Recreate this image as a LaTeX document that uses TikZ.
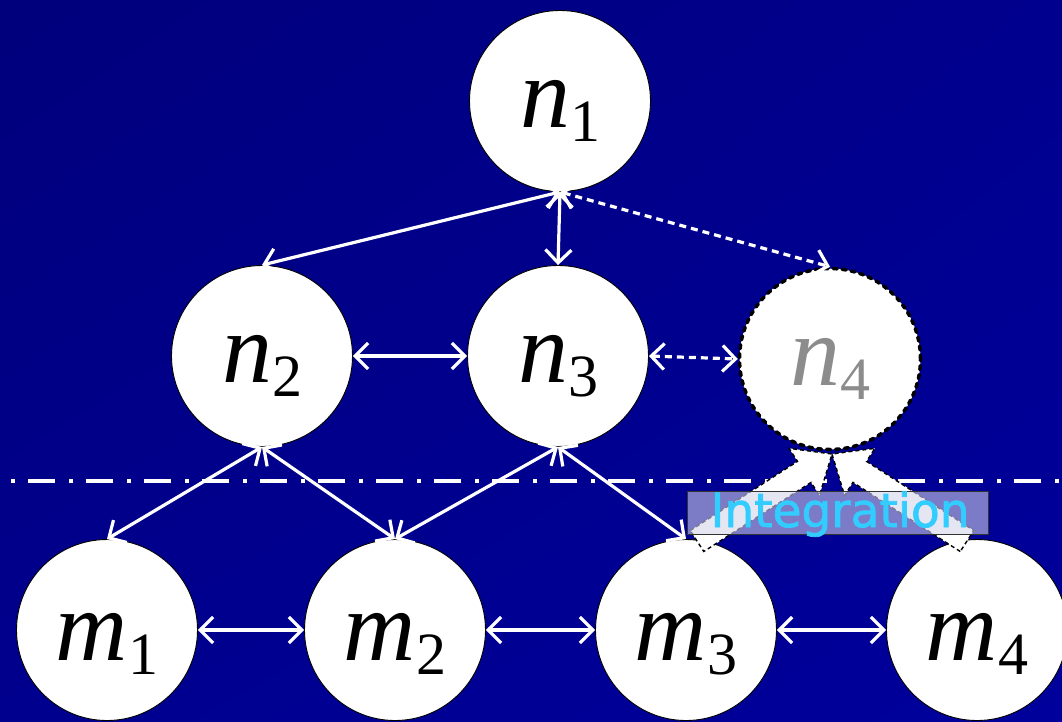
\documentclass[tikz,border=0pt]{standalone}
\usepackage{fontspec}
\usepackage{graphicx}
\setmainfont{Liberation Serif}
\newfontfamily\labelfont[FakeBold=1.6]{DejaVu Sans}
\usetikzlibrary{arrows.meta,calc,shadings}

\definecolor{bgdark}{HTML}{00007C}
\definecolor{bgmid}{HTML}{00008E}
\definecolor{bglight}{HTML}{00009C}
\definecolor{intcyan}{HTML}{33CCFF}
\definecolor{ghost}{HTML}{8C8C8C}
\definecolor{labelfill}{HTML}{D4D4EC}

\newcommand{\vlab}[3][black]{\textcolor{#1}{\fontsize{100}{100}\selectfont\itshape #2}\raisebox{-14pt}{\textcolor{#1}{\fontsize{60}{60}\selectfont #3}}}

\begin{document}
\begin{tikzpicture}[x=1pt,y=-1pt,
  vert/.style={circle,draw=black,line width=0.9pt,fill=white,minimum size=181pt,inner sep=0pt,text height=52pt,text depth=0pt},
  mvert/.style={vert,text height=60pt},
  link/.style={draw=white,line width=3.2pt,{Straight Barb[length=13pt,width=26pt]}-{Straight Barb[length=13pt,width=26pt]}},
  dlink/.style={link,dash pattern=on 7pt off 5pt},
  blockarrow/.style={fill=white,draw=black,line width=1.4pt,dash pattern=on 4pt off 3pt},
]
\useasboundingbox (0,0) rectangle (1062,721);
\shade[upper left=bgdark,upper right=bgmid,lower left=bgmid,lower right=bglight] (0,0) rectangle (1062,721);

% dash-dot separator
\draw[white,line width=4pt,dash pattern=on 27pt off 14pt on 4pt off 13pt,dash phase=30pt] (0,481) -- (1062,481);

% nodes
\node[vert] (n1) at (560,101) {\vlab{n}{1}};
\node[vert] (n2) at (262,356) {\vlab{n}{2}};
\node[vert] (n3) at (558,356) {\vlab{n}{3}};
\node[vert,line width=3.5pt,line cap=round,dash pattern=on 4pt off 5pt] (n4) at (830,359) {\vlab[ghost]{n}{4}};
\node[mvert] (m1) at (107,630) {\vlab{m}{1}};
\node[mvert] (m2) at (395,630) {\vlab{m}{2}};
\node[mvert] (m3) at (686,630) {\vlab{m}{3}};
\node[mvert] (m4) at (977,630) {\vlab{m}{4}};

% connectors
\draw[link] (n1.south) -- (n2.north);
\draw[link] (n1.south) -- (n3.north);
\draw[dlink] (n1.south) -- (n4.north);
\draw[link] (n2.east) -- (n3.west);
\draw[dlink] (n3.east) -- (n4.west);
\draw[link] (n2.south) -- (m1.north);
\draw[link] (n2.south) -- (m2.north);
\draw[link] (n3.south) -- (m2.north);
\draw[link] (n3.south) -- (m3.north);
\draw[link] (m1.east) -- (m2.west);
\draw[link] (m2.east) -- (m3.west);
\draw[link] (m3.east) -- (m4.west);

% integration block arrows
\coordinate (T) at (832,454);
\coordinate (S1) at (697,541);
\coordinate (S2) at (967,541);
\coordinate (H1) at ($(T)!33pt!(S1)$);
\coordinate (H2) at ($(T)!33pt!(S2)$);
\filldraw[blockarrow] ($(S1)!12.5pt!90:(T)$) -- ($(H1)!12.5pt!90:(T)$) -- ($(H1)!28pt!90:(T)$) -- (T)
  -- ($(H1)!28pt!-90:(T)$) -- ($(H1)!12.5pt!-90:(T)$) -- ($(S1)!12.5pt!-90:(T)$) -- cycle;
\filldraw[blockarrow] ($(S2)!12.5pt!90:(T)$) -- ($(H2)!12.5pt!90:(T)$) -- ($(H2)!28pt!90:(T)$) -- (T)
  -- ($(H2)!28pt!-90:(T)$) -- ($(H2)!12.5pt!-90:(T)$) -- ($(S2)!12.5pt!-90:(T)$) -- cycle;

% label
\node[draw=black!80,line width=0.9pt,fill=labelfill,fill opacity=0.58,draw opacity=1,
  minimum width=301pt,minimum height=43pt,inner sep=0pt] (intbox) at (837.5,512.5) {};
\node[anchor=base,text=intcyan,inner sep=0pt] (inttext) at (840,527)
  {\labelfont\fontsize{47}{47}\selectfont Integration};
\end{tikzpicture}
\end{document}
